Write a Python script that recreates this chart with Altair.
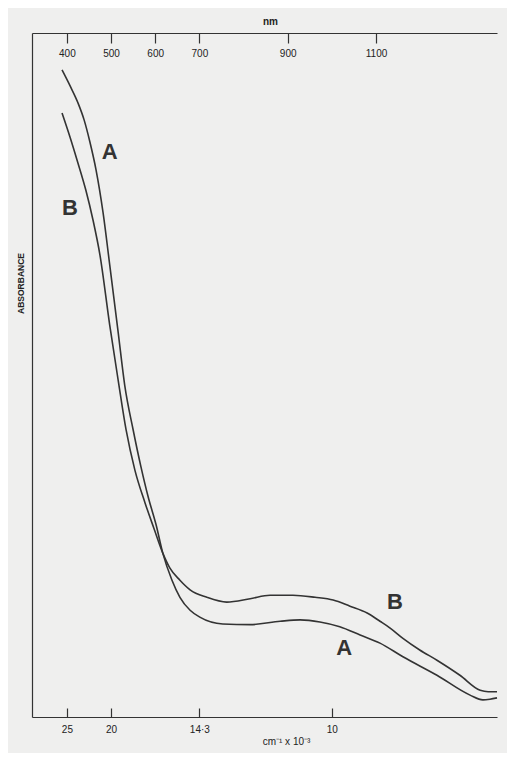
import altair as alt
import pandas as pd

# Curve A (wavelength nm, relative absorbance)
a_nm = [389, 407, 425, 439, 452, 466, 482, 497, 516, 531, 550, 568, 584, 602, 617, 638, 656, 679,
        701, 753, 815, 883, 928, 973, 1018, 1064, 1109, 1161, 1238, 1313, 1342, 1358, 1374]
a_abs = [0.946, 0.923, 0.898, 0.873, 0.841, 0.800, 0.737, 0.661, 0.563, 0.485, 0.420, 0.365, 0.322,
         0.281, 0.240, 0.200, 0.175, 0.156, 0.146, 0.136, 0.135, 0.140, 0.142, 0.139, 0.132, 0.120,
         0.108, 0.088, 0.061, 0.032, 0.025, 0.026, 0.028]

# Curve B
b_nm = [389, 407, 425, 443, 459, 475, 497, 516, 534, 554, 577, 597, 617, 633, 656, 679, 717, 762,
        815, 860, 912, 962, 1003, 1041, 1080, 1109, 1132, 1161, 1199, 1238, 1290, 1336, 1354, 1374]
b_abs = [0.883, 0.848, 0.810, 0.770, 0.727, 0.675, 0.573, 0.493, 0.420, 0.361, 0.313, 0.276, 0.240,
         0.218, 0.200, 0.186, 0.175, 0.168, 0.173, 0.178, 0.178, 0.175, 0.171, 0.162, 0.152, 0.140,
         0.130, 0.115, 0.098, 0.083, 0.061, 0.039, 0.037, 0.037]

# Curve letters
lab_text = ["A", "B", "B", "A"]
lab_nm = [497, 407, 1143, 1028]
lab_abs = [0.826, 0.744, 0.168, 0.101]

# Axis ticks
top_tick_nm = [400, 500, 600, 700, 900, 1100]
bottom_tick_nm = [400, 500, 700, 1000]
bottom_tick_labels = ["25", "20", "14·3", "10"]

df_a = pd.DataFrame({"nm": a_nm, "abs": a_abs})
df_b = pd.DataFrame({"nm": b_nm, "abs": b_abs})
df_lab = pd.DataFrame({"nm": lab_nm, "abs": lab_abs, "t": lab_text})

W, H = 465, 684
INK = "#333333"
FONT = "Liberation Sans"

label_expr = ""
for v, t in zip(bottom_tick_nm, bottom_tick_labels):
    label_expr += f"datum.value == {v} ? '{t}' : "
label_expr += "''"

xs = alt.Scale(domain=[321, 1374], nice=False, zero=False)
ys = alt.Scale(domain=[0, 1], nice=False, zero=False)

y_axis = alt.Axis(orient="left", domain=True, ticks=False, labels=False, grid=False,
                  title="ABSORBANCE", titleFontSize=8.5, titleFontWeight="bold",
                  titleFont=FONT, titleColor="#222", titleX=-12, titleY=250,
                  titleAngle=270, titleAlign="center", titleBaseline="middle",
                  domainColor=INK, domainWidth=1.2)

line_a = alt.Chart(df_a).mark_line(color=INK, strokeWidth=1.6, interpolate="monotone").encode(
    x=alt.X("nm:Q", scale=xs,
            axis=alt.Axis(orient="bottom", values=bottom_tick_nm, labelExpr=label_expr,
                          ticks=False, tickSize=0, domain=True, domainColor=INK, domainWidth=1.2,
                          grid=False, labelPadding=7, labelFontSize=10, labelFont=FONT,
                          labelColor="#222", title="cm⁻¹ x 10⁻³", titleFontSize=10,
                          titleFont=FONT, titleFontWeight="normal", titlePadding=2,
                          titleColor="#222", titleX=254)),
    y=alt.Y("abs:Q", scale=ys, axis=y_axis),
)

line_b = alt.Chart(df_b).mark_line(color=INK, strokeWidth=1.6, interpolate="monotone").encode(
    x=alt.X("nm:Q", scale=xs,
            axis=alt.Axis(orient="bottom", offset=-H, values=top_tick_nm, format="d",
                          ticks=True, tickSize=10, tickColor=INK, tickWidth=1.2,
                          domain=True, domainColor=INK, domainWidth=1.2, grid=False,
                          labelPadding=5, labelFontSize=10, labelFont=FONT, labelColor="#222",
                          title=None)),
    y=alt.Y("abs:Q", scale=ys, axis=y_axis),
)

letters = alt.Chart(df_lab).mark_text(fontSize=22, fontWeight="bold", font=FONT, color=INK,
                                      align="center", baseline="middle").encode(
    x=alt.X("nm:Q", scale=xs,
            axis=alt.Axis(orient="top", offset=-H, values=bottom_tick_nm, ticks=True,
                          tickSize=9, tickColor=INK, tickWidth=1.2, labels=False,
                          domain=False, grid=False, title=None)),
    y=alt.Y("abs:Q", scale=ys, axis=y_axis),
    text="t:N",
)

chart = alt.layer(line_a, line_b, letters).resolve_axis(x="independent").properties(
    width=W, height=H,
    autosize=alt.AutoSizeParams(type="none"),
    padding={"left": 24, "top": 25, "right": 10, "bottom": 36},
    background="#efefee",
    title=alt.TitleParams("nm", fontSize=10, font=FONT, fontWeight="bold", color="#222",
                          anchor="middle", dx=6, offset=5),
).configure_view(stroke=None)

chart.save("out.html", embed_options={"renderer": "svg", "actions": False})
